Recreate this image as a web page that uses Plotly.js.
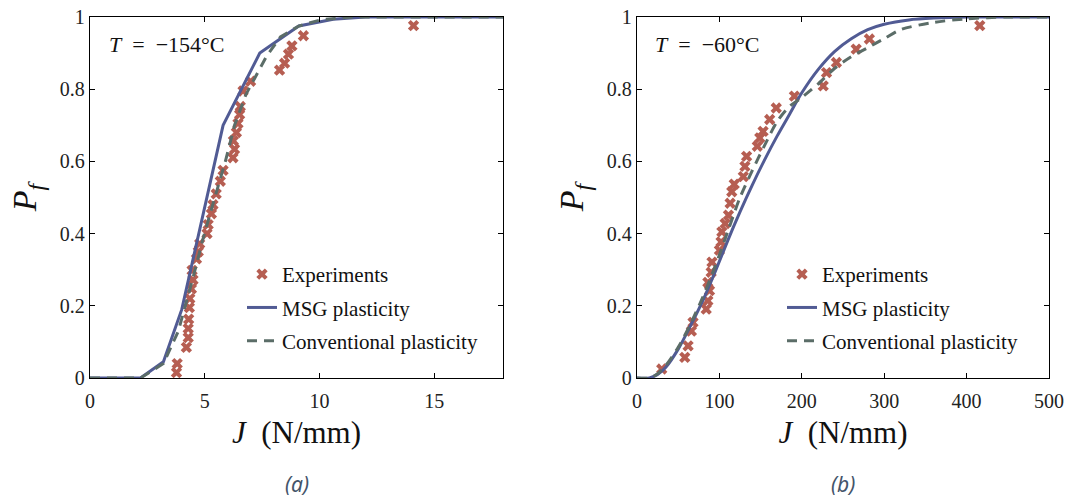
<!DOCTYPE html>
<html>
<head>
<meta charset="utf-8">
<script src="https://cdn.plot.ly/plotly-3.0.1.min.js"></script>
<style>html,body{margin:0;padding:0;background:#fff;}#chart{width:1070px;height:498px;}</style>
</head>
<body>
<div id="chart"></div>
<script>
// ---- Panel (a): T = -154 C ----
const expJ_a = [3.77,3.8,4.2,4.28,4.28,4.3,4.33,4.35,4.42,4.49,4.45,4.64,4.72,4.78,5.1,5.15,5.29,5.36,5.5,5.68,5.8,6.23,6.3,6.25,6.38,6.45,6.52,6.55,6.67,7.0,8.26,8.48,8.65,8.8,9.3,14.1];
const expP_a = [0.015,0.04,0.085,0.112,0.137,0.163,0.195,0.22,0.247,0.272,0.298,0.33,0.35,0.372,0.40,0.425,0.455,0.48,0.51,0.545,0.575,0.61,0.634,0.657,0.68,0.705,0.73,0.752,0.795,0.822,0.853,0.872,0.897,0.92,0.948,0.976];
const msgJ_a = [0,2.2,3.2,4.0,5.8,7.4,9.1,10.6,12,18];
const msgP_a = [0,0,0.045,0.19,0.70,0.90,0.975,0.994,1,1];
const convJ_a = [0,2.2,3.2,3.85,4.5,4.9,5.35,5.9,6.3,6.8,7.7,8.3,9.1,10.1,11.5,18];
const convP_a = [0,0,0.04,0.13,0.28,0.38,0.48,0.60,0.70,0.786,0.892,0.945,0.975,0.993,1,1];

// ---- Panel (b): T = -60 C ----
const expJ_b = [30,58,62,66,68,84,86,88,86,90,91,100,102,103,107,111,113,115,118,129,131,133,146,149,153,161,169,191,226,230,242,266,282,416];
const expP_b = [0.025,0.057,0.089,0.13,0.154,0.191,0.214,0.242,0.265,0.293,0.321,0.354,0.377,0.405,0.428,0.451,0.484,0.516,0.537,0.558,0.586,0.614,0.642,0.665,0.683,0.716,0.748,0.781,0.809,0.846,0.874,0.911,0.939,0.976];
const msgJ_b = [0,15,25,35,50,65,80,95,110,125,140,155,170,185,200,220,240,260,280,300,330,360,400,450,500];
const msgP_b = [0,0,0.01,0.03,0.08,0.145,0.215,0.295,0.38,0.46,0.535,0.605,0.67,0.73,0.79,0.855,0.905,0.94,0.965,0.98,0.992,0.997,1,1,1];
const convJ_b = [0,15,25,35,50,65,80,95,110,125,140,155,170,185,200,220,240,260,280,300,320,360,400,450,500];
const convP_b = [0,0,0.012,0.035,0.085,0.15,0.225,0.31,0.405,0.5,0.575,0.645,0.71,0.752,0.777,0.815,0.858,0.89,0.915,0.94,0.965,0.985,0.995,1,1];

const xTicks_a = [0,5,10,15];
const xTicks_b = [0,100,200,300,400,500];
const yTicks = [0,0.2,0.4,0.6,0.8,1];
const yTickText = ["0","0.2","0.4","0.6","0.8","1"];
const names = ["Experiments","MSG plasticity","Conventional plasticity"];
const tempLabels = ["<i>T</i>\u2002=\u2002\u2212154\u00B0C","<i>T</i>\u2002=\u2002\u221260\u00B0C"];
const captions = ["(a)","(b)"];

const expColor = "#b65e52";
const msgColor = "#515b94";
const convColor = "#5b6d68";
const serif = "Liberation Serif, Times New Roman, serif";

function traces(ej, ep, mj, mp, cj, cp, xa, ya, lg, shape) {
  return [
    {x: ej, y: ep, xaxis: xa, yaxis: ya, name: names[0], legend: lg, legendgroup: lg+"e",
     mode: "markers", type: "scatter", cliponaxis: false,
     marker: {symbol: "x", size: 10, color: expColor, line: {width: 0}}},
    {x: mj, y: mp, xaxis: xa, yaxis: ya, name: names[1], legend: lg, legendgroup: lg+"m",
     mode: "lines", type: "scatter", cliponaxis: false,
     line: {color: msgColor, width: 3, shape: shape, smoothing: 0.8}},
    {x: cj, y: cp, xaxis: xa, yaxis: ya, name: names[2], legend: lg, legendgroup: lg+"c",
     mode: "lines", type: "scatter", cliponaxis: false,
     line: {color: convColor, width: 3, dash: "10px,7px", shape: shape, smoothing: 0.8}}
  ];
}

const data = [].concat(
  traces(expJ_a, expP_a, msgJ_a, msgP_a, convJ_a, convP_a, "x", "y", "legend", "linear"),
  traces(expJ_b, expP_b, msgJ_b, msgP_b, convJ_b, convP_b, "x2", "y2", "legend2", "spline")
);

const W = 1070, H = 498;
const yDom = [1 - 378/H, 1 - 17/H];
function xax(dom, range, ticks) {
  return {domain: dom, range: range, tickvals: ticks, ticktext: ticks.map(String),
    showline: true, mirror: "ticks", linecolor: "#000", linewidth: 1.3,
    ticks: "inside", ticklen: 5, tickcolor: "#000", tickwidth: 1,
    ticklabelstandoff: 5,
    showgrid: false, zeroline: false, fixedrange: true,
    tickfont: {family: serif, size: 20, color: "#222"},
    title: {text: "<i>J</i>\u00A0\u00A0(N/mm)", font: {family: serif, size: 31, color: "#111"}, standoff: 10}};
}
function yax(dom, anchor) {
  return {domain: dom, range: [0, 1], anchor: anchor, tickvals: yTicks, ticktext: yTickText,
    showline: true, mirror: "ticks", linecolor: "#000", linewidth: 1.3,
    ticks: "inside", ticklen: 5, tickcolor: "#000", tickwidth: 1,
    showgrid: false, zeroline: false, fixedrange: true,
    tickfont: {family: serif, size: 20, color: "#222"},
    title: {text: "<i>P</i><sub><i>f</i></sub>", font: {family: serif, size: 34, color: "#111"}, standoff: 12}};
}
const legendStyle = {font: {family: serif, size: 21, color: "#111"}, bgcolor: "rgba(0,0,0,0)",
  borderwidth: 0, tracegroupgap: 3, traceorder: "grouped", xanchor: "left", yanchor: "top"};

const layout = {
  width: W, height: H,
  margin: {l: 0, r: 0, t: 0, b: 0},
  paper_bgcolor: "#fff", plot_bgcolor: "#fff",
  xaxis: Object.assign(xax([90/W, 503/W], [0, 18], xTicks_a), {anchor: "y"}),
  yaxis: yax(yDom, "x"),
  xaxis2: Object.assign(xax([637/W, 1049/W], [0, 500], xTicks_b), {anchor: "y2"}),
  yaxis2: yax(yDom, "x2"),
  legend: Object.assign({x: 242/W, y: 1 - 254/H}, legendStyle),
  legend2: Object.assign({x: 782/W, y: 1 - 254/H}, legendStyle),
  showlegend: true,
  annotations: [
    {xref: "x domain", yref: "y domain", x: 0.04, y: 0.925, xanchor: "left", yanchor: "middle",
     text: tempLabels[0], showarrow: false, font: {family: serif, size: 22, color: "#111"}},
    {xref: "x2 domain", yref: "y2 domain", x: 0.04, y: 0.925, xanchor: "left", yanchor: "middle",
     text: tempLabels[1], showarrow: false, font: {family: serif, size: 22, color: "#111"}},
    {xref: "x domain", yref: "paper", x: 0.5, y: 1 - 484/H, xanchor: "center", yanchor: "middle",
     text: "<i>" + captions[0] + "</i>", showarrow: false, font: {family: "Noto Sans, Open Sans, sans-serif", size: 21, color: "#44546a"}},
    {xref: "x2 domain", yref: "paper", x: 0.5, y: 1 - 484/H, xanchor: "center", yanchor: "middle",
     text: "<i>" + captions[1] + "</i>", showarrow: false, font: {family: "Noto Sans, Open Sans, sans-serif", size: 21, color: "#44546a"}}
  ]
};

Plotly.newPlot("chart", data, layout, {displayModeBar: false, staticPlot: true});
</script>
</body>
</html>
